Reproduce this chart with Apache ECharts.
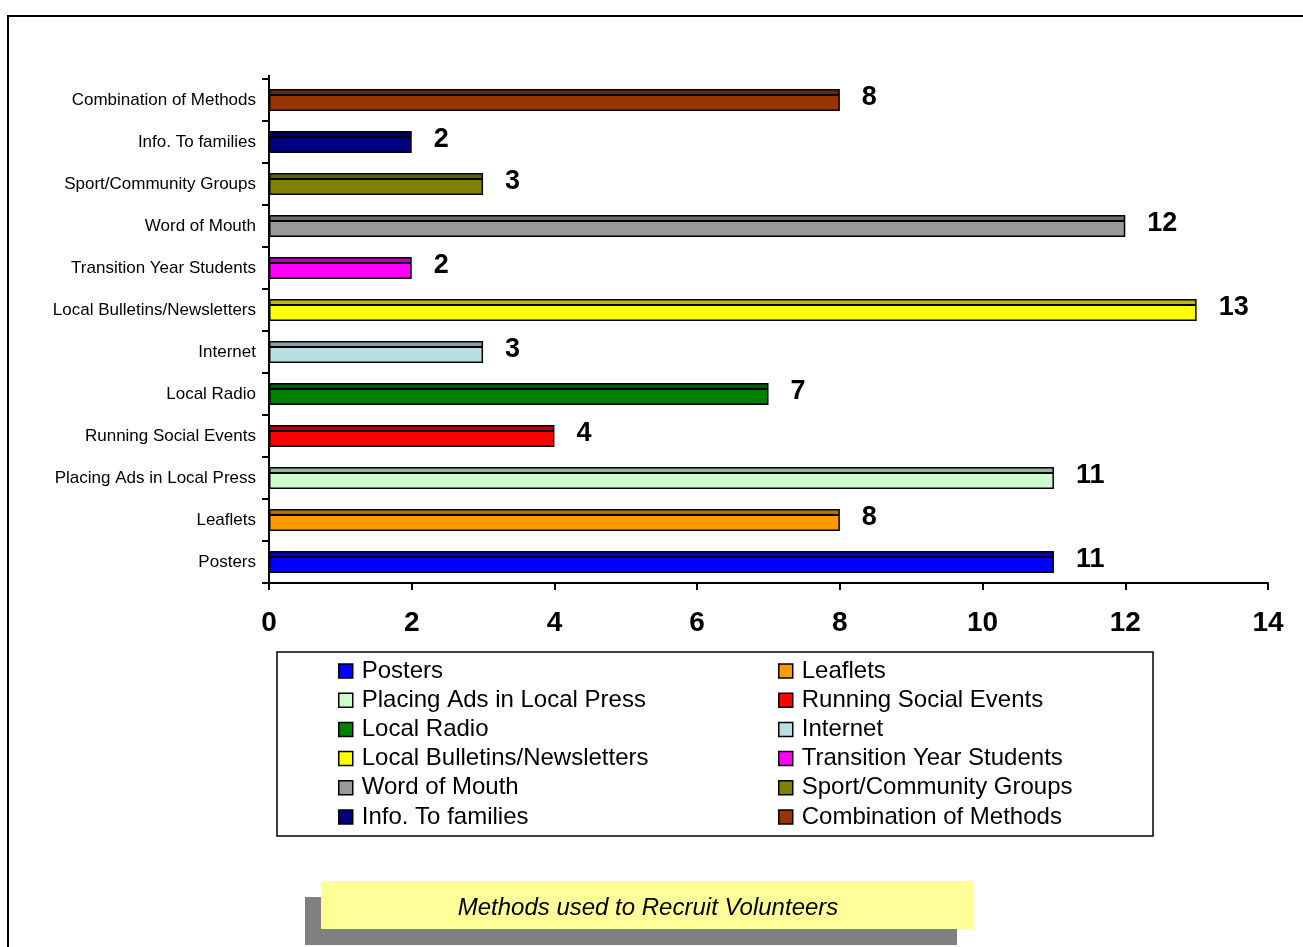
<!DOCTYPE html>
<html>
<head>
<meta charset="utf-8">
<script src="https://cdn.jsdelivr.net/npm/echarts@6/dist/echarts.min.js"></script>
<style>
  html, body { margin: 0; padding: 0; background: #fff; }
  #chart { width: 1303px; height: 947px; }
</style>
</head>
<body>
<div id="chart"></div>
<script>
// categories, bottom to top as on the chart
const methods = [
  'Posters', 'Leaflets', 'Placing Ads in Local Press', 'Running Social Events',
  'Local Radio', 'Internet', 'Local Bulletins/Newsletters', 'Transition Year Students',
  'Word of Mouth', 'Sport/Community Groups', 'Info. To families', 'Combination of Methods'
];
const counts = [11, 8, 11, 4, 7, 3, 13, 2, 12, 3, 2, 8];
const barColors = [
  '#0000FF', '#FF9900', '#CCFFCC', '#FF0000', '#008000', '#B8E0E4',
  '#FFFF00', '#FF00FF', '#999999', '#808000', '#000080', '#993300'
];
const chartTitle = 'Methods used to Recruit Volunteers';

const FONT = '"Liberation Sans", Arial, sans-serif';

function darker(hex) {
  const n = parseInt(hex.slice(1), 16);
  const r = Math.round(((n >> 16) & 255) * 0.72);
  const g = Math.round(((n >> 8) & 255) * 0.72);
  const b = Math.round((n & 255) * 0.72);
  return 'rgb(' + r + ',' + g + ',' + b + ')';
}

// one series per method so that the legend can list them
const series = methods.map((name, i) => ({
  name: name,
  type: 'bar',
  stack: 'all',
  barWidth: 22,
  data: counts.map((v, j) => (j === i ? v : '-')),
  itemStyle: {
    color: new echarts.graphic.LinearGradient(0, 0, 0, 1, [
      { offset: 0, color: darker(barColors[i]) },
      { offset: 0.24, color: darker(barColors[i]) },
      { offset: 0.24, color: '#000' },
      { offset: 0.31, color: '#000' },
      { offset: 0.31, color: barColors[i] },
      { offset: 1, color: barColors[i] }
    ]),
    borderColor: '#000',
    borderWidth: 1.5
  },
  label: {
    show: true,
    position: 'right',
    distance: 22,
    offset: [0, -2],
    color: '#000',
    fontFamily: FONT,
    fontWeight: 'bold',
    fontSize: 27
  }
}));

const legendItem = i => ({
  name: methods[i],
  itemStyle: { color: barColors[i], borderColor: '#000', borderWidth: 1.5 }
});

const legendBase = {
  orient: 'vertical',
  top: 654,
  icon: 'rect',
  itemWidth: 14,
  itemHeight: 14,
  itemGap: 5.2,
  selectedMode: false,
  textStyle: {
    color: '#000',
    fontFamily: FONT,
    fontSize: 24,
    lineHeight: 24,
    padding: [0, 0, 0, 4]
  }
};

const chart = echarts.init(document.getElementById('chart'));
chart.setOption({
  backgroundColor: '#fff',
  animation: false,
  textStyle: { fontFamily: FONT },
  title: {
    text: chartTitle,
    left: 643,
    top: 891,
    textAlign: 'center',
    z: 10,
    textStyle: {
      color: '#000',
      fontFamily: FONT,
      fontStyle: 'italic',
      fontWeight: 'normal',
      fontSize: 24
    }
  },
  grid: {
    left: 269,
    right: 35,
    top: 79,
    bottom: 364
  },
  xAxis: {
    type: 'value',
    min: 0,
    max: 14,
    interval: 2,
    splitLine: { show: false },
    axisLine: { show: true, lineStyle: { color: '#000', width: 2 } },
    axisTick: { show: true, length: 7, lineStyle: { color: '#000', width: 2 } },
    axisLabel: {
      color: '#000',
      fontFamily: FONT,
      fontWeight: 'bold',
      fontSize: 28,
      margin: 26
    }
  },
  yAxis: {
    type: 'category',
    data: methods,
    axisLine: { show: true, lineStyle: { color: '#000', width: 2 } },
    axisTick: { show: true, length: 7, lineStyle: { color: '#000', width: 2 } },
    axisLabel: {
      color: '#000',
      fontFamily: FONT,
      fontSize: 17,
      margin: 13
    }
  },
  legend: [
    Object.assign({}, legendBase, { left: 333, data: [0, 2, 4, 6, 8, 10].map(legendItem) }),
    Object.assign({}, legendBase, { left: 773, data: [1, 3, 5, 7, 9, 11].map(legendItem) })
  ],
  graphic: [
    {
      type: 'rect',
      z: -10,
      shape: { x: 8, y: 16, width: 1320, height: 960 },
      style: { fill: 'none', stroke: '#000', lineWidth: 2 }
    },
    {
      type: 'line',
      z: 5,
      shape: { x1: 269, y1: 75, x2: 269, y2: 80 },
      style: { stroke: '#000', lineWidth: 2 }
    },
    {
      type: 'rect',
      z: -5,
      shape: { x: 277, y: 652, width: 876, height: 184 },
      style: { fill: '#fff', stroke: '#000', lineWidth: 1.5 }
    },
    {
      type: 'rect',
      z: 1,
      shape: { x: 305, y: 897, width: 652, height: 48 },
      style: { fill: '#808080' }
    },
    {
      type: 'rect',
      z: 2,
      shape: { x: 321, y: 881, width: 652, height: 48 },
      style: { fill: '#FFFF99' }
    }
  ],
  series: series
});
</script>
</body>
</html>
